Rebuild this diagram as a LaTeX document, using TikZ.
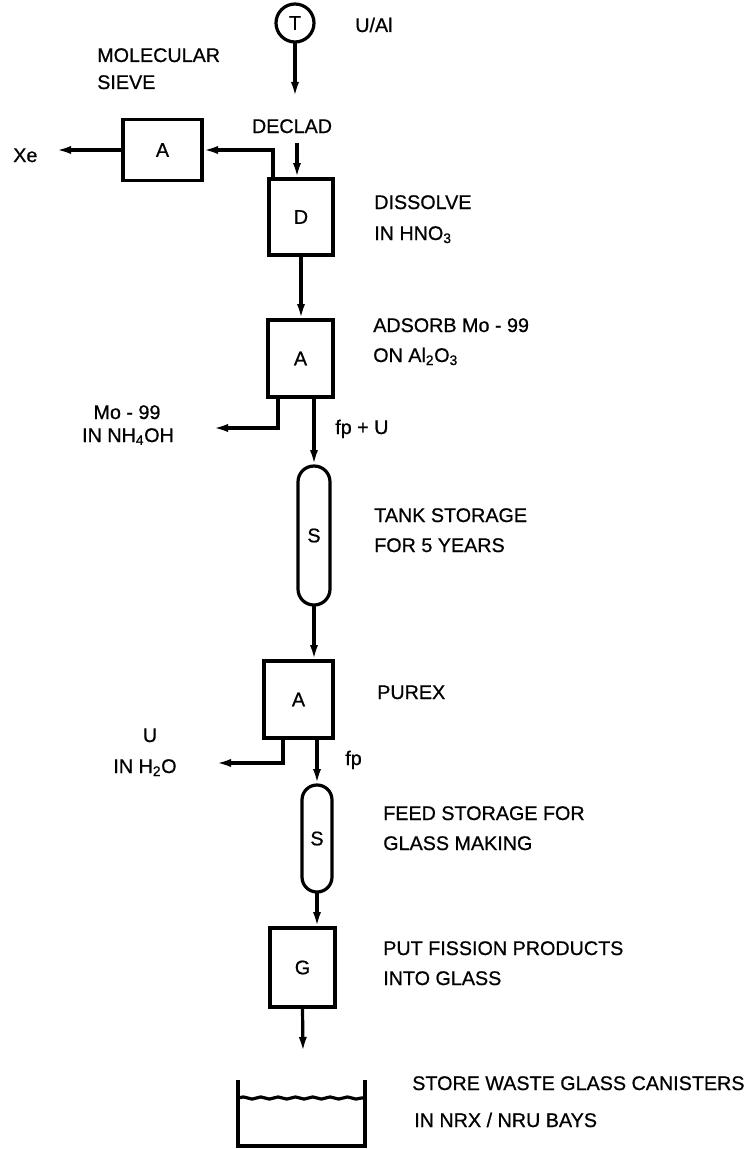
\documentclass[tikz,border=0pt]{standalone}
\usepackage{fontspec}
\setmainfont{Liberation Sans}[FakeBold=0.7]
\usetikzlibrary{arrows.meta,decorations.pathmorphing}
\begin{document}
\begin{tikzpicture}[x=0.75pt,y=-0.75pt,
  every node/.style={font=\fontsize{14.8}{17}\selectfont},
  ln/.style={line width=2.4pt},
  arr/.style={ln,-{Latex[length=12pt,width=6pt]}},
  unit/.style={draw,ln,inner sep=0pt,outer sep=0pt},
  lbl/.style={anchor=base west,inner sep=0pt},
  clbl/.style={anchor=base,inner sep=0pt}]
\useasboundingbox (0,0) rectangle (755,1149);

% units
\node[unit,circle,minimum size=28.5pt] (T) at (295,23) {T};
\node[unit,minimum width=59.25pt,minimum height=45.75pt] (Asv) at (162.5,150) {A};
\node[unit,minimum width=48pt,minimum height=57pt] (D) at (301,217) {D};
\node[unit,minimum width=48.75pt,minimum height=57.75pt] (A2) at (300.5,358.5) {A};
\node[unit,rounded corners=11.9pt,minimum width=24pt,minimum height=104.25pt] (S1) at (314,535.5) {S};
\node[unit,minimum width=51.75pt,minimum height=57.75pt] (A3) at (298.5,699.5) {A};
\node[unit,rounded corners=11.2pt,minimum width=22.5pt,minimum height=80.25pt] (S2) at (317,838.5) {S};
\node[unit,minimum width=48.75pt,minimum height=59.25pt] (G) at (302.5,967.5) {G};

% free ends
\coordinate (tEnd) at (295,98);
\coordinate (dIn) at (297,143);
\coordinate (dOff) at (273,179);
\coordinate (xeEnd) at (55,150);
\coordinate (moEnd) at (212,428);
\coordinate (uEnd) at (215,763);
\coordinate (gEnd) at (303,1053);

% connectors
\draw[arr] (T.south) -- (tEnd);
\draw[arr] (dIn) -- (dIn |- D.north);
\draw[arr] (dOff) |- (Asv.east);
\draw[arr] (Asv.west) -- (xeEnd);
\draw[arr] (D.south) -- (D.south |- A2.north);
\draw[arr] ([xshift=7.5pt]A2.south west) |- (moEnd);
\draw[arr] (S1.north |- A2.south) -- (S1.north);
\draw[arr] (S1.south) -- (S1.south |- A3.north);
\draw[arr] ([xshift=14.25pt]A3.south west) |- (uEnd);
\draw[arr] (S2.north |- A3.south) -- (S2.north);
\draw[arr] (S2.south) -- (S2.south |- G.north);
\draw[arr] (G.south) -- (gEnd);

% storage bay
\draw[ln] (238,1080) -- (238,1146) -- (365,1146) -- (365,1080);
\draw[ln,decorate,decoration={snake,segment length=13pt,amplitude=0.8pt}] (238,1098) -- (365,1098);

% labels
\node[lbl] (tUAl) at (355,32) {U/Al};
\node[lbl] (tMol1) at (97,62) {MOLECULAR};
\node[lbl] (tMol2) at (97,89) {SIEVE};
\node[clbl] (tDeclad) at (292,133) {DECLAD};
\node[lbl] (tXe) at (13,162) {Xe};
\node[lbl] (tDis1) at (374,209) {DISSOLVE};
\node[lbl] (tDis2) at (374,240) {IN HNO\textsubscript{3}};
\node[lbl] (tAds1) at (373,332) {ADSORB Mo - 99};
\node[lbl] (tAds2) at (373,362) {ON Al\textsubscript{2}O\textsubscript{3}};
\node[clbl] (tMo1) at (127,419) {Mo - 99};
\node[clbl] (tMo2) at (128,442) {IN NH\textsubscript{4}OH};
\node[lbl] (tFpU) at (335,434) {fp + U};
\node[lbl] (tTank1) at (374,522) {TANK STORAGE};
\node[lbl] (tTank2) at (374,552) {FOR 5 YEARS};
\node[lbl] (tPurex) at (377,699) {PUREX};
\node[clbl] (tU1) at (150,742) {U};
\node[clbl] (tU2) at (145,773) {IN H\textsubscript{2}O};
\node[lbl] (tFp) at (345,765) {fp};
\node[lbl] (tFeed1) at (383,820) {FEED STORAGE FOR};
\node[lbl] (tFeed2) at (383,850) {GLASS MAKING};
\node[lbl] (tPut1) at (383,955) {PUT FISSION PRODUCTS};
\node[lbl] (tPut2) at (383,985) {INTO GLASS};
\node[lbl] (tStore1) at (412,1090) {STORE WASTE GLASS CANISTERS};
\node[lbl] (tStore2) at (414,1127) {IN NRX / NRU BAYS};
\end{tikzpicture}
\end{document}
